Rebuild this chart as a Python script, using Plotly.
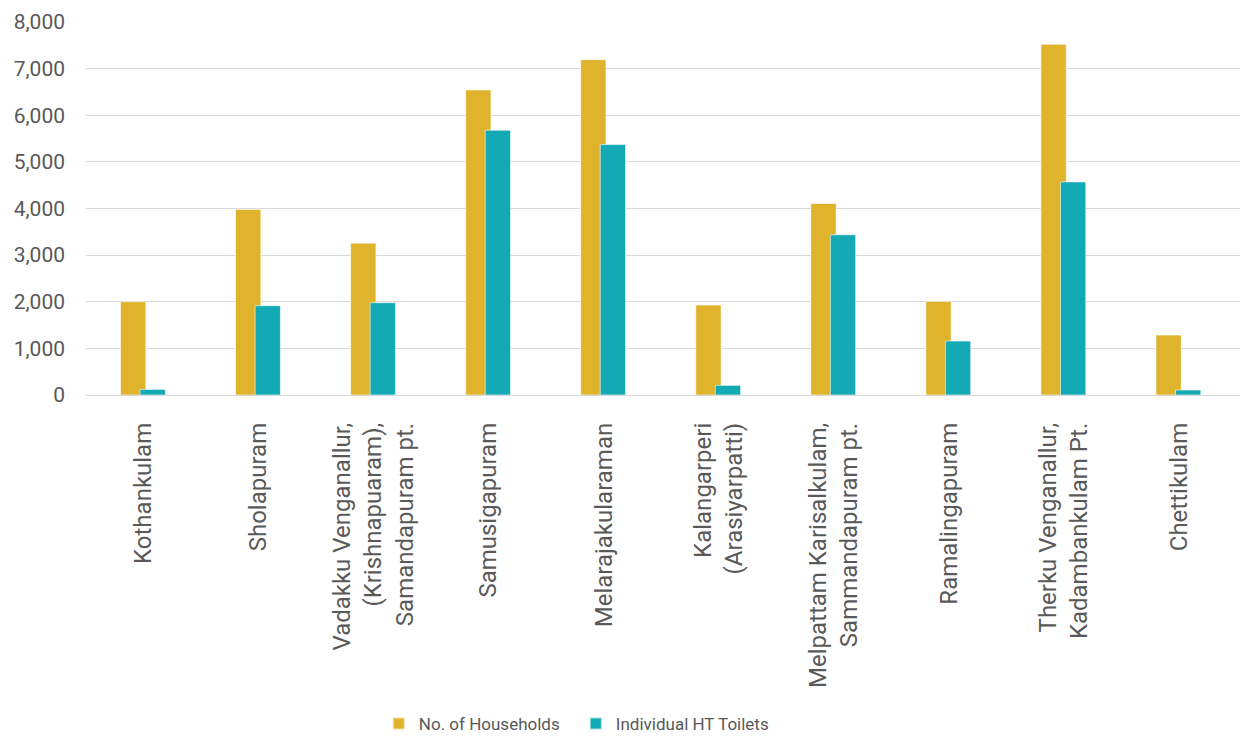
import plotly.graph_objects as go

categories = [
    "Kothankulam",
    "Sholapuram",
    "Vadakku Venganallur,<br>(Krishnapuaram),<br>Samandapuram pt.",
    "Samusigapuram",
    "Melarajakularaman",
    "Kalangarperi<br>(Arasiyarpatti)",
    "Melpattam Karisalkulam,<br>Sammandapuram pt.",
    "Ramalingapuram",
    "Therku Venganallur,<br>Kadambankulam Pt.",
    "Chettikulam",
]
households = [2000, 3980, 3257, 6543, 7193, 1929, 4107, 2007, 7521, 1286]
toilets = [120, 1915, 1980, 5679, 5371, 207, 3436, 1157, 4571, 107]

gold = "#DFB32C"
teal = "#13A9B5"
idx = list(range(len(categories)))

fig = go.Figure()
fig.add_trace(go.Bar(
    x=idx, y=households, name="No. of Households",
    marker=dict(color=gold, line=dict(color="rgba(255,255,255,0.6)", width=1)),
    width=0.22, offset=-0.2,
))
fig.add_trace(go.Bar(
    x=idx, y=toilets, name="Individual HT Toilets",
    marker=dict(color=teal, line=dict(color="rgba(255,255,255,0.6)", width=1)),
    width=0.22, offset=-0.03,
))

fig.update_layout(
    width=1240, height=736,
    barmode="overlay",
    paper_bgcolor="white", plot_bgcolor="white",
    font=dict(family="Roboto", size=20, color="#595959"),
    margin=dict(l=78, r=0, t=14, b=349),
    showlegend=True,
    legend=dict(orientation="h", x=0.252, xanchor="left", y=-0.882, yanchor="middle",
                font=dict(size=17, color="#595959"), itemsizing="constant",
                traceorder="normal", entrywidth=152),
    xaxis=dict(
        tickmode="array", tickvals=idx, ticktext=categories,
        tickangle=-90, range=[-0.5, 9.6], showgrid=False, zeroline=False,
        showline=False, ticks="", tickfont=dict(size=24, color="#595959"),
        automargin=False, ticklabelstandoff=22,
    ),
    yaxis=dict(
        range=[0, 8000], dtick=1000, tickformat=",d",
        showgrid=True, gridcolor="#D9D9D9", gridwidth=1,
        zeroline=True, zerolinecolor="#D9D9D9", zerolinewidth=1,
        showline=False, ticks="", tickfont=dict(size=21, color="#595959"),
        ticklabelstandoff=20, automargin=False,
    ),
)

fig.write_html("out.html")
